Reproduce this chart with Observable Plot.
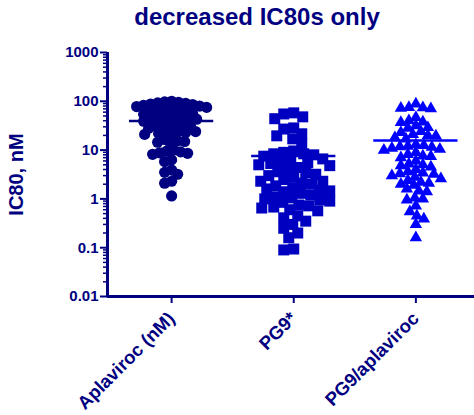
<!DOCTYPE html>
<html><head><meta charset="utf-8">
<script src="https://cdn.jsdelivr.net/npm/d3@7"></script>
<script src="https://cdn.jsdelivr.net/npm/@observablehq/plot@0.6"></script>
<style>
body{margin:0;background:#fff}
#chart svg text{font-weight:bold}
</style>
</head><body><div id="chart"></div>
<script>
const title = "decreased IC80s only";
const yLabel = "IC80, nM";
const groups = ["Aplaviroc (nM)", "PG9*", "PG9/aplaviroc"];
const yTicks = [0.01, 0.1, 1, 10, 100, 1000];

const aplaviroc = [100, 97, 95, 93, 91, 88, 86, 83, 80, 78, 75, 72, 70, 67, 64, 61,
  58, 56, 54, 52, 50, 48, 46, 44, 43, 41, 39, 38, 36,
  34, 32, 31, 30, 28, 27, 26, 25, 24, 23, 22, 21, 19,
  16.5, 15.5, 15, 14.5, 13.5, 10, 9.5, 9.2, 8.8, 8.6, 8.2, 6.3, 5.8, 3.9, 3.5, 3.2, 2.3, 2.1, 1.15];
const pg9 = [58, 55, 48, 44, 28.5, 27, 21.6, 19.6, 17, 13.5,
  9.6, 9, 8.4, 8.4, 8, 7.5, 6.6, 6.2, 5.8, 5.5, 5.3, 5, 4.8,
  4.4, 4, 3.6, 3.4, 3.2, 3, 2.8, 2.5, 2.3, 2.3, 2.1, 2, 1.85,
  1.7, 1.6, 1.5, 1.46, 1.4, 1.3, 1.2, 1.1, 1.05, 1, 0.95, 0.9, 0.85,
  0.75, 0.72, 0.68, 0.65, 0.6, 0.57, 0.45, 0.41, 0.35, 0.3, 0.25, 0.2, 0.16, 0.094, 0.09];
const pg9Aplaviroc = [88, 75, 74, 72, 71, 46.6, 40, 38, 36.8, 31.6, 29, 28, 24, 23, 21, 20, 19.6, 18, 17,
  13, 12.5, 12, 11.7, 11.5, 11, 10.5, 10, 9, 8.2, 7.6, 7.4, 7,
  6, 5.2, 5, 4.8, 4.5, 4, 3.6, 3.4, 3.3, 3.2, 3, 2.8,
  2.6, 2.4, 2.2, 2.1, 2, 1.9, 1.6, 1.45, 1.4, 1.05, 1, 0.95, 0.72,
  0.55, 0.45, 0.39, 0.3, 0.16];
const seriesValues = [aplaviroc, pg9, pg9Aplaviroc];

// styles
const navy = "#000080";
const colors = ["#000080", "#0000C0", "#0000FF"];
const symbols = ["circle", "square", "triangle"];
const radii = [5.6, 6.2, 4.6];
const W = 474, H = 415, mL = 107, mR = 0, mT = 52, mB = 119;
const xDomain = [-0.525, 2.48];
const yDomain = [0.01, 1000];

// layout helpers (same mapping as Plot's scales) for column-scatter spread
const xs = d3.scaleLinear().domain(xDomain).range([mL, W - mR]);
const ys = d3.scaleLog().domain(yDomain).range([H - mB, mT]);
const pxPerUnit = xs(1) - xs(0);

function spread(values, gi, minDist) {
  const pts = values.map(v => ({v, py: ys(v)})).sort((a, b) => a.py - b.py);
  const placed = [];
  for (const p of pts) {
    let off = 0;
    for (let k = 0; k < 400; k++) {
      const cand = (k % 2 ? -1 : 1) * Math.ceil(k / 2);
      const ok = placed.every(q => (q.ox - cand) ** 2 + (q.py - p.py) ** 2 >= minDist * minDist);
      if (ok) { off = cand; break; }
    }
    p.ox = off;
    placed.push(p);
  }
  return placed.map(p => ({group: groups[gi], x: gi + p.ox / pxPerUnit, y: p.v}));
}

const minDists = [6.8, 9.5, 7.6];
const points = seriesValues.map((vals, i) => spread(vals, i, minDists[i]));
const means = seriesValues.map((vals, i) => ({i, mean: d3.mean(vals)}));

const minorTicks = [];
for (let e = -2; e < 3; e++) for (let k = 2; k <= 9; k++) minorTicks.push(k * Math.pow(10, e));

const font = "'Liberation Sans', Arial, sans-serif";

const chart = Plot.plot({
  width: W, height: H,
  marginLeft: mL, marginRight: mR, marginTop: mT, marginBottom: mB,
  style: {fontFamily: font, background: "white", color: navy, overflow: "visible"},
  x: {type: "linear", domain: xDomain, label: null},
  y: {type: "log", domain: yDomain, label: null},
  marks: [
    ...points.map((pts, i) => Plot.dot(pts, {
      x: "x", y: "y", symbol: () => symbols[i], r: radii[i], fill: colors[i], stroke: "none"
    })),
    Plot.ruleY(means, {
      y: "mean", x1: d => d.i - 0.345, x2: d => d.i + 0.345,
      stroke: (d) => colors[d.i], strokeWidth: 2.5
    }),
    Plot.ruleX([xDomain[0]], {y1: yDomain[0], y2: yDomain[1], stroke: navy, strokeWidth: 3}),
    Plot.ruleY([yDomain[0]], {stroke: navy, strokeWidth: 3}),
    Plot.axisY(minorTicks, {tickSize: 4, tickFormat: () => "", color: navy, strokeWidth: 1.5, label: null}),
    Plot.axisY(yTicks, {tickSize: 7, tickPadding: 2, tickFormat: d => String(d), color: navy,
      strokeWidth: 2, fontSize: 15, label: null}),
    Plot.axisX([0, 1, 2], {tickSize: 7, tickPadding: 12, tickRotate: -45, tickFormat: i => groups[i],
      color: navy, strokeWidth: 2, fontSize: 18.5, label: null}),
    Plot.text([title], {frameAnchor: "top", dx: -34, dy: -35, fontSize: 24, fill: navy, lineAnchor: "middle", textAnchor: "middle"}),
    Plot.text([yLabel], {frameAnchor: "left", dx: -91, dy: 0, rotate: -90, fontSize: 20, fill: navy, lineAnchor: "middle", textAnchor: "middle"})
  ]
});
document.getElementById("chart").appendChild(chart);
</script>
</body></html>
